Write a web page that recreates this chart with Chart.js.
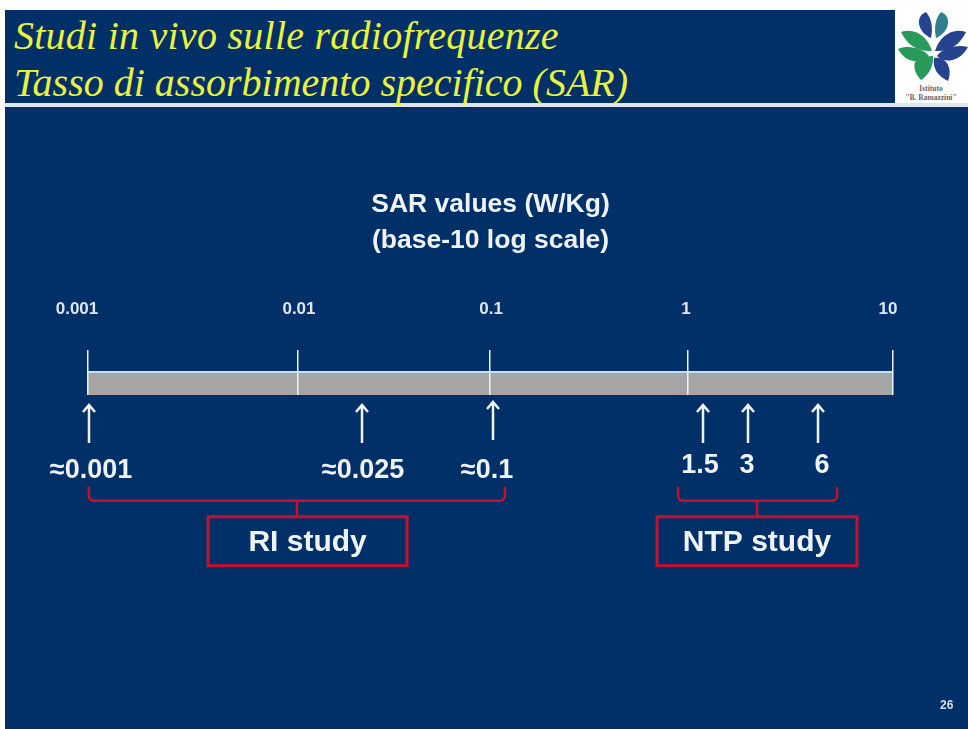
<!DOCTYPE html>
<html>
<head>
<meta charset="utf-8">
<script src="https://cdn.jsdelivr.net/npm/chart.js@4"></script>
<style>
html, body { margin: 0; padding: 0; background: #fff; }
#page { position: relative; width: 968px; height: 729px; overflow: hidden; background: #fff; }
#slide { position: absolute; left: 5px; top: 10px; right: 0; bottom: 0; background: #003067; }
#rule { position: absolute; left: 5px; right: 0; top: 103px; height: 4px; background: #dde6f2; }
.head { position: absolute; left: 14px; color: #e9f23f; font: italic 40px "Liberation Serif", serif; white-space: nowrap; line-height: 44px; }
#logo { position: absolute; left: 895px; top: 10px; }
#chart { position: absolute; left: 0; top: 0; }
#pageno { position: absolute; left: 940px; top: 698px; color: #d5deea; font: bold 12px "Liberation Sans", sans-serif; }
</style>
</head>
<body>
<div id="page">
  <div id="slide"></div>
  <div id="rule"></div>
  <div class="head" style="top:14px;letter-spacing:0.25px">Studi in vivo sulle radiofrequenze</div>
  <div class="head" style="top:61px">Tasso di assorbimento specifico (SAR)</div>
  <svg id="logo" width="73" height="93" viewBox="0 0 73 93">
    <rect width="73" height="93" fill="#fff"/>
    <path d="M31 2 C20 6 22 22 36 28 C38 18 37 9 31 2Z" fill="#26438f"/>
    <path d="M46 2 C57 6 55 22 41 28 C39 18 40 9 46 2Z" fill="#2f7f8f"/>
    <path d="M6 22 C20 17 33 27 37 41 C23 42 12 35 6 22Z" fill="#2a9a5b"/>
    <path d="M3 39 C14 34 29 39 34 46 C27 54 11 54 3 39Z" fill="#2a9a5b"/>
    <path d="M20 52 C27 47 34 46 38 46 C39 59 31 67 26 70 C21 65 18 58 20 52Z" fill="#2a9a5b"/>
    <path d="M71 22 C57 17 44 27 40 41 C54 42 65 35 71 22Z" fill="#26438f"/>
    <path d="M73 37 C60 34 47 39 42 46 C49 54 65 52 73 37Z" fill="#26438f"/>
    <path d="M39 48 C51 46 58 58 53 71 C44 67 37 59 39 48Z" fill="#26438f"/>
    <text x="36" y="81" text-anchor="middle" font-family="Liberation Serif" font-size="7.5" font-weight="bold" fill="#666">Istituto</text>
    <text x="36" y="90" text-anchor="middle" font-family="Liberation Serif" font-size="7.5" font-weight="bold" fill="#666">"B. Ramazzini"</text>
  </svg>
  <canvas id="chart" width="968" height="729"></canvas>
  <div id="pageno">26</div>
</div>
<script>
const TITLE_LINES = ['SAR values (W/Kg)', '(base-10 log scale)'];
const TICK_LABELS = ['0.001', '0.01', '0.1', '1', '10'];
// where each tick sits on the drawn axis (the slide's axis is not quite even)
const TICK_VALUES = [0.001, 0.01105, 0.0995, 0.957, 10];
const TICK_LABEL_SHIFT = [-11, 1, 1, -2, -5];

const ARROW_VALUES = [0.00101, 0.02298, 0.1029, 1.137, 1.904, 4.24];
const ARROW_LABELS = ['≈0.001', '≈0.025', '≈0.1', '1.5', '3', '6'];
const ARROW_LABEL_SHIFT = [2, 1, -6, -3, -1, 4];
const ARROW_LABEL_Y = [-76, -76, -76, -71, -71, -71];
const ARROW_TIP_Y = [-10, -10, -7, -10, -10, -10];
const ARROW_TAIL_Y = [-48, -48, -45, -48, -48, -48];

const STUDY_LABELS = ['RI study', 'NTP study'];
const STUDY_FROM = [0.00101, 0.855];
const STUDY_TO = [0.118, 5.27];
const STUDY_STEM = [0.01093, 2.11];
const BOX_FROM = [0.00395, 0.672];
const BOX_TO = [0.0385, 6.62];

const WHITE = '#eef3f8';
const RED = '#c8102e';
const FONT = '"Liberation Sans", Arial, sans-serif';

// y scale is in px above the bar's bottom edge
const BAND_TOP = 23;
const AXIS_TOP = 45;

function getBandData() {
    return [
        {
            data: [{ x: 0.001, y: BAND_TOP }, { x: 10, y: BAND_TOP }],
            borderColor: '#cddbee',
            borderWidth: 2,
            backgroundColor: '#a5a5a5',
            fill: '+1',
            pointRadius: 0
        },
        {
            data: [{ x: 0.001, y: 0 }, { x: 10, y: 0 }],
            borderColor: '#cddbee',
            borderWidth: 2,
            pointRadius: 0
        }
    ];
}

function getAnnotationsPlugin() {
    return {
        id: 'annotations',
        afterLayout(chart) {
            // the slide's tick labels are not centred over their ticks
            chart.scales.x.getLabelItems().forEach((item, i) => {
                item.options.translation[0] += TICK_LABEL_SHIFT[i];
            });
        },
        afterDraw(chart) {
            const { ctx, scales: { x, y } } = chart;
            ctx.save();
            drawArrows(ctx, x, y);
            drawBrackets(ctx, x, y);
            ctx.restore();
        }
    };
}

function drawArrows(ctx, x, y) {
    ctx.strokeStyle = WHITE;
    ctx.fillStyle = WHITE;
    ctx.lineWidth = 2.5;
    ctx.textAlign = 'center';
    ctx.textBaseline = 'middle';
    ctx.font = 'bold 27px ' + FONT;
    ARROW_VALUES.forEach((value, i) => {
        const px = Math.round(x.getPixelForValue(value));
        const tipY = y.getPixelForValue(ARROW_TIP_Y[i]);
        ctx.beginPath();
        ctx.moveTo(px, y.getPixelForValue(ARROW_TAIL_Y[i]));
        ctx.lineTo(px, tipY);
        ctx.moveTo(px - 6, tipY + 7);
        ctx.lineTo(px, tipY);
        ctx.lineTo(px + 6, tipY + 7);
        ctx.stroke();
        ctx.fillText(ARROW_LABELS[i], px + ARROW_LABEL_SHIFT[i], y.getPixelForValue(ARROW_LABEL_Y[i]));
    });
}

function drawBrackets(ctx, x, y) {
    const topY = y.getPixelForValue(-92);
    const barY = y.getPixelForValue(-106);
    const boxTop = y.getPixelForValue(-122);
    const boxBottom = y.getPixelForValue(-171);
    STUDY_LABELS.forEach((label, i) => {
        const left = x.getPixelForValue(STUDY_FROM[i]);
        const right = x.getPixelForValue(STUDY_TO[i]);
        const stem = x.getPixelForValue(STUDY_STEM[i]);
        const boxLeft = x.getPixelForValue(BOX_FROM[i]);
        const boxRight = x.getPixelForValue(BOX_TO[i]);

        ctx.strokeStyle = RED;
        ctx.lineWidth = 2.5;
        ctx.beginPath();
        ctx.moveTo(left, topY);
        ctx.arcTo(left, barY, left + 5, barY, 5);
        ctx.arcTo(right, barY, right, barY - 5, 5);
        ctx.lineTo(right, topY);
        ctx.moveTo(stem, barY);
        ctx.lineTo(stem, boxTop);
        ctx.stroke();

        ctx.lineWidth = 3;
        ctx.strokeRect(boxLeft, boxTop, boxRight - boxLeft, boxBottom - boxTop);

        ctx.fillStyle = WHITE;
        ctx.font = 'bold 30px ' + FONT;
        ctx.textAlign = 'center';
        ctx.textBaseline = 'middle';
        ctx.fillText(label, (boxLeft + boxRight) / 2, (boxTop + boxBottom) / 2 + 1);
    });
}

function getChartConfig() {
    return {
        type: 'line',
        data: { datasets: getBandData() },
        options: {
            responsive: false,
            animation: false,
            events: [],
            layout: { padding: { left: 88, right: 75, top: 187, bottom: 334 } },
            plugins: {
                legend: { display: false },
                tooltip: { enabled: false },
                title: {
                    display: true,
                    text: TITLE_LINES,
                    color: WHITE,
                    font: { family: FONT, size: 26.5, weight: 'bold', lineHeight: 1.36 },
                    padding: { top: 0, bottom: 36 }
                }
            },
            scales: {
                x: {
                    type: 'logarithmic',
                    position: 'top',
                    min: 0.001,
                    max: 10,
                    afterBuildTicks(scale) {
                        scale.ticks = TICK_VALUES.map(value => ({ value }));
                    },
                    afterFit(scale) {
                        scale.height = 55;
                    },
                    ticks: {
                        autoSkip: false,
                        maxRotation: 0,
                        padding: 31,
                        color: '#dfe6ef',
                        font: { family: FONT, size: 17, weight: 'bold' },
                        callback: (value, index) => TICK_LABELS[index]
                    },
                    grid: { color: WHITE, lineWidth: 1.5, drawTicks: false, z: 1 },
                    border: { display: false }
                },
                y: {
                    type: 'linear',
                    min: 0,
                    max: AXIS_TOP,
                    display: false
                }
            }
        },
        plugins: [getAnnotationsPlugin()]
    };
}

new Chart(document.getElementById('chart'), getChartConfig());
</script>
</body>
</html>
